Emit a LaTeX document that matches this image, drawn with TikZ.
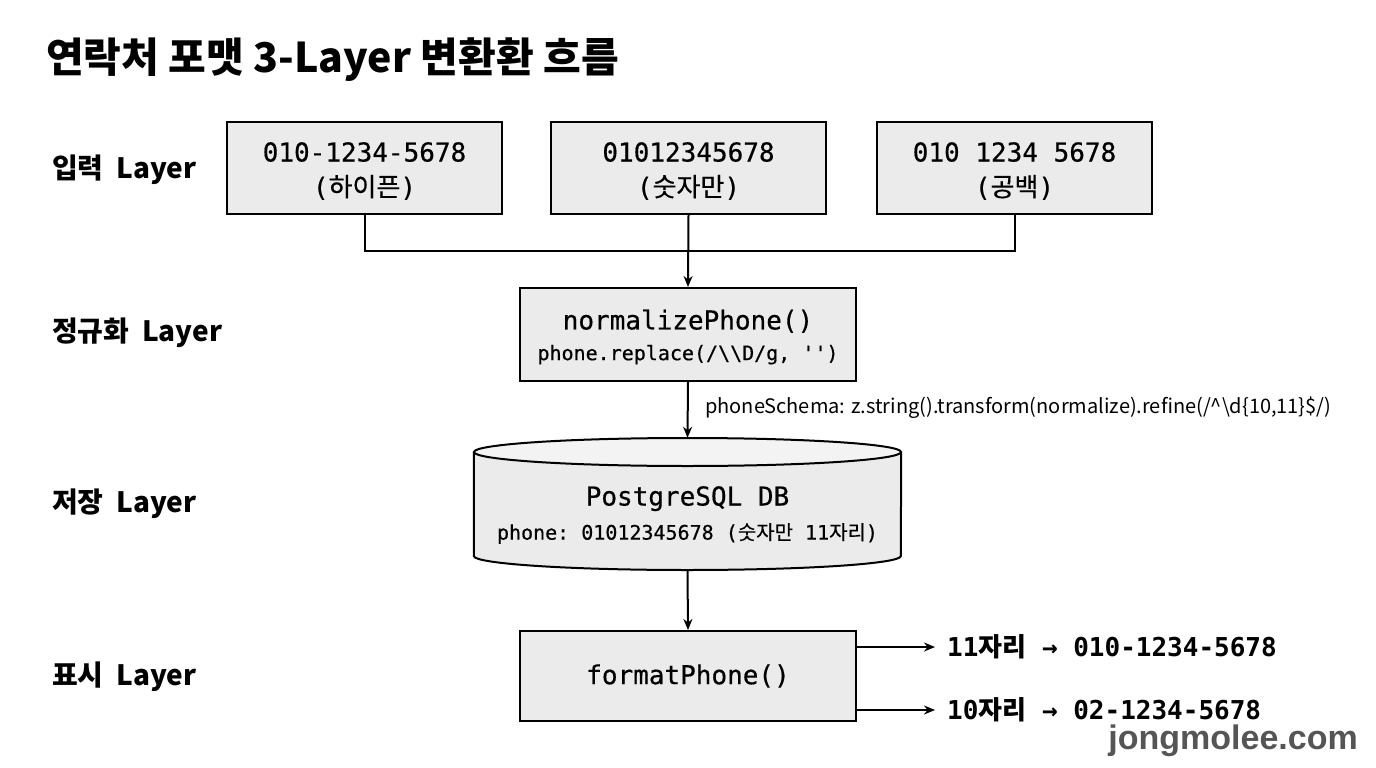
\documentclass[tikz,border=0pt]{standalone}
\usepackage{fontspec}
\setmainfont{Noto Sans CJK KR}
\setmonofont{DejaVu Sans Mono}[FakeBold=0.5]
\newfontfamily\kr{Noto Sans CJK KR}[FakeBold=0.5]
\newfontfamily\krb{Noto Sans CJK KR}
\newfontfamily\monob{DejaVu Sans Mono}
\newfontfamily\webfont{Liberation Sans}
\usetikzlibrary{arrows.meta}
\definecolor{boxgray}{HTML}{EBEBEB}
\definecolor{topgray}{HTML}{F3F3F3}
\definecolor{webgray}{HTML}{555555}
\newcommand\hk[1]{{\kr #1}}
\newcommand\hkb[1]{{\krb\bfseries #1}}
\newcommand\fsz[1]{\fontsize{#1}{#1}\selectfont}
\begin{document}
\begin{tikzpicture}[x=1pt,y=-1pt,
  box/.style={draw=black, line width=2pt, fill=boxgray, align=center, inner sep=0pt, font=\ttfamily},
  conn/.style={line width=2pt, draw=black},
  arr/.style={conn, -{Stealth[length=11pt,width=9pt]}},
  layer/.style={anchor=west, inner sep=0pt, font=\bfseries\fsz{28}},
  rlabel/.style={anchor=west, inner sep=0pt, font=\monob\bfseries\fsz{26}},
]
\useasboundingbox (0,0) rectangle (1376,768);
\fill[white] (0,0) rectangle (1376,768);

% title
\node[anchor=west, inner sep=0pt, font=\bfseries\fsz{41}] (title) at (46,60) {연락처 포맷 3-Layer 변환환 흐름};

% layer labels
\node[layer] (L1) at (52,170) {입력\hspace{0.45em}Layer};
\node[layer] (L2) at (52,333) {정규화\hspace{0.45em}Layer};
\node[layer] (L3) at (52,504) {저장\hspace{0.45em}Layer};
\node[layer] (L4) at (52,677) {표시\hspace{0.45em}Layer};

% input boxes
\node[box, minimum width=275, minimum height=92] (in1) at (364.5,168) {};
\node[box, minimum width=275, minimum height=92] (in2) at (688.5,168) {};
\node[box, minimum width=275, minimum height=92] (in3) at (1014.5,168) {};
\node[align=center, inner sep=0pt, font=\ttfamily] (t1) at (364.5,171)
  {\fsz{26}010-1234-5678\\[12pt]\fsz{26}(\hk{하이픈})};
\node[align=center, inner sep=0pt, font=\ttfamily] (t2) at (688.5,171)
  {\fsz{26}01012345678\\[12pt]\fsz{26}(\hk{숫자만})};
\node[align=center, inner sep=0pt, font=\ttfamily] (t3) at (1014.5,171)
  {\fsz{26}010 1234 5678\\[12pt]\fsz{26}(\hk{공백})};

% normalize box
\node[box, minimum width=336, minimum height=93] (norm) at (688,334.5) {};
\node[align=center, inner sep=0pt, font=\ttfamily] (tnorm) at (688,337)
  {\fsz{26}normalizePhone()\\[11pt]\fsz{20}phone.replace(/\textbackslash\textbackslash D/g, \textquotesingle\textquotesingle)};

% database cylinder
\node[minimum width=427, minimum height=132, inner sep=0pt] (db) at (687.5,504) {};
\fill[boxgray] (db.west |- 0,452) -- (db.west |- 0,556)
  arc[start angle=180, end angle=0, x radius=213.5, y radius=14]
  -- (db.east |- 0,452) -- cycle;
\fill[topgray] (687.5,452) ellipse[x radius=213.5, y radius=14];
\draw[conn] (687.5,452) ellipse[x radius=213.5, y radius=14];
\draw[conn] (db.west |- 0,452) -- (db.west |- 0,556)
  arc[start angle=180, end angle=0, x radius=213.5, y radius=14]
  -- (db.east |- 0,452);
\node[align=center, inner sep=0pt, font=\ttfamily] (dbtext) at (687.5,515)
  {\fsz{26}PostgreSQL DB\\[11pt]\fsz{20}phone: 01012345678 (\hk{숫자만} 11\hk{자리})};

% format box
\node[box, minimum width=336, minimum height=90] (fmt) at (688,676)
  {\fsz{26}formatPhone()};

% right labels
\node[rlabel] (r11) at (947,647) {11\hkb{자리} → 010-1234-5678};
\node[rlabel] (r10) at (947,710) {10\hkb{자리} → 02-1234-5678};

% schema label
\node[anchor=west, inner sep=0pt, font=\fsz{20}] (schema) at (705,408)
  {phoneSchema: z.string().transform(normalize).refine(/\textasciicircum\textbackslash d\{10,11\}\$/)};

% watermark
\node[anchor=east, inner sep=0pt, text=webgray, font=\webfont\bfseries\fsz{34}] (web) at (1358,741) {jongmolee.com};

% connectors
\coordinate (merge) at (688.5,251);
\draw[conn] (in1.south) |- (merge) -| (in3.south);
\draw[arr] (in2.south) -- (norm.north);
\draw[arr] (norm.south) -- (db.north);
\draw[arr] (db.south) -- (fmt.north);
\draw[arr] (fmt.east |- r11.west) -- ([xshift=-12pt]r11.west);
\draw[arr] (fmt.east |- r10.west) -- ([xshift=-12pt]r10.west);
\end{tikzpicture}
\end{document}
